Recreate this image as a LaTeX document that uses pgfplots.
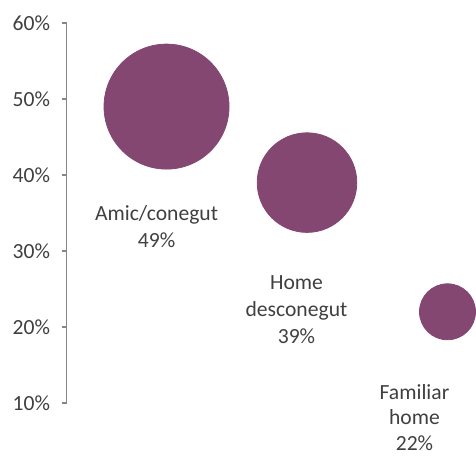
\documentclass[border=0pt]{standalone}
\usepackage{fontspec}
\setmainfont{Carlito}
\usepackage{pgfplots}
\pgfplotsset{compat=1.18}
\definecolor{bub}{RGB}{132,71,114}
\definecolor{txt}{RGB}{64,64,64}
\definecolor{axgray}{RGB}{134,134,134}

% bubble x position, y value, radius (pt, proportional to the value)
\begin{document}
\begin{tikzpicture}
\useasboundingbox (0,0) rectangle (238pt,227.5pt);
\begin{axis}[
    at={(33.25pt,26pt)}, anchor=south west,
    scale only axis,
    width=204.75pt, height=190pt,
    xmin=0.288, xmax=3.203,
    ymin=0.1, ymax=0.6,
    hide x axis,
    axis y line*=left,
    y axis line style={axgray, line width=0.9pt},
    ytick={0.1,0.2,0.3,0.4,0.5,0.6},
    yticklabels={10\%,20\%,30\%,40\%,50\%,60\%},
    tick align=outside,
    major tick length=2.5pt,
    ytick style={axgray, line width=0.9pt},
    yticklabel style={font=\fontsize{10.8}{13}\selectfont, text=txt, xshift=-2.2pt},
    clip=false,
]
\addplot[
    scatter, only marks, mark=*,
    scatter/use mapped color={draw=bub, fill=bub},
    visualization depends on={\thisrow{r} \as \rad},
    scatter/@pre marker code/.append style={/tikz/mark size=\rad},
] table {
x y r
1 0.49 31.25
2 0.39 24.9
3 0.22 14.0
};
\node[align=center, text=txt, font=\fontsize{10.8}{13.8}\selectfont] at (axis cs:0.929,0.332) {Amic/conegut\\49\%};
\node[align=center, text=txt, font=\fontsize{10.8}{13.5}\selectfont] at (axis cs:1.925,0.2224) {Home\\desconegut\\39\%};
\node[align=center, text=txt, font=\fontsize{10.8}{12.8}\selectfont] at (axis cs:2.765,0.081) {Familiar\\home\\22\%};
\end{axis}
\end{tikzpicture}
\end{document}
